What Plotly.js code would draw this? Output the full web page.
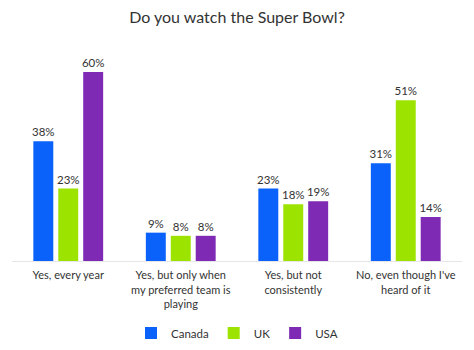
<!DOCTYPE html>
<html>
<head>
<meta charset="utf-8">
<script src="https://cdn.plot.ly/plotly-3.0.1.min.js"></script>
<style>html,body{margin:0;padding:0;background:#fff;}#chart{width:474px;height:350px;}</style>
</head>
<body>
<div id="chart"></div>
<script>
var categories = ["Yes, every year", "Yes, but only when<br>my preferred team is<br>playing", "Yes, but not<br>consistently", "No, even though I've<br>heard of it"];
var canada = [38, 9, 23, 31];
var uk = [23, 8, 18, 51];
var usa = [60, 8, 19, 14];
var seriesNames = ["Canada", "UK", "USA"];
var colors = ["#0b62fb", "#9de300", "#7e2ab5"];
var seriesValues = [canada, uk, usa];

var traces = seriesValues.map(function (vals, i) {
  return {
    type: "bar",
    name: seriesNames[i],
    x: categories,
    y: vals,
    marker: {color: colors[i]},
    text: vals.map(function (v) { return v + "%"; }),
    textposition: "outside",
    constraintext: "none",
    cliponaxis: false,
    textfont: {size: 11.5, color: "#333333"},
    hoverinfo: "none"
  };
});

var layout = {
  width: 474,
  height: 350,
  margin: {l: 12, r: 12, t: 40, b: 89, autoexpand: false},
  paper_bgcolor: "#ffffff",
  plot_bgcolor: "#ffffff",
  font: {family: "Lato, 'Open Sans', sans-serif", color: "#333333", size: 11},
  title: {text: "Do you watch the Super Bowl?", font: {size: 16, color: "#333333"}, x: 0.5, xanchor: "center", y: 0.95, yanchor: "middle"},
  barmode: "group",
  bargap: 0.335,
  bargroupgap: 0.2,
  showlegend: true,
  legend: {orientation: "h", x: 0.5, xanchor: "center", y: -0.326, yanchor: "middle", font: {size: 11.5, color: "#333333"}, itemwidth: 30, tracegroupgap: 0},
  xaxis: {showline: true, linecolor: "#e6e6e6", linewidth: 1, ticks: "", ticklabelstandoff: 4, tickfont: {size: 11, color: "#333333"}, fixedrange: true},
  yaxis: {range: [0, 70.16], visible: false, showgrid: false, zeroline: false, fixedrange: true}
};

Plotly.newPlot("chart", traces, layout, {displayModeBar: false, staticPlot: true});
</script>
</body>
</html>
